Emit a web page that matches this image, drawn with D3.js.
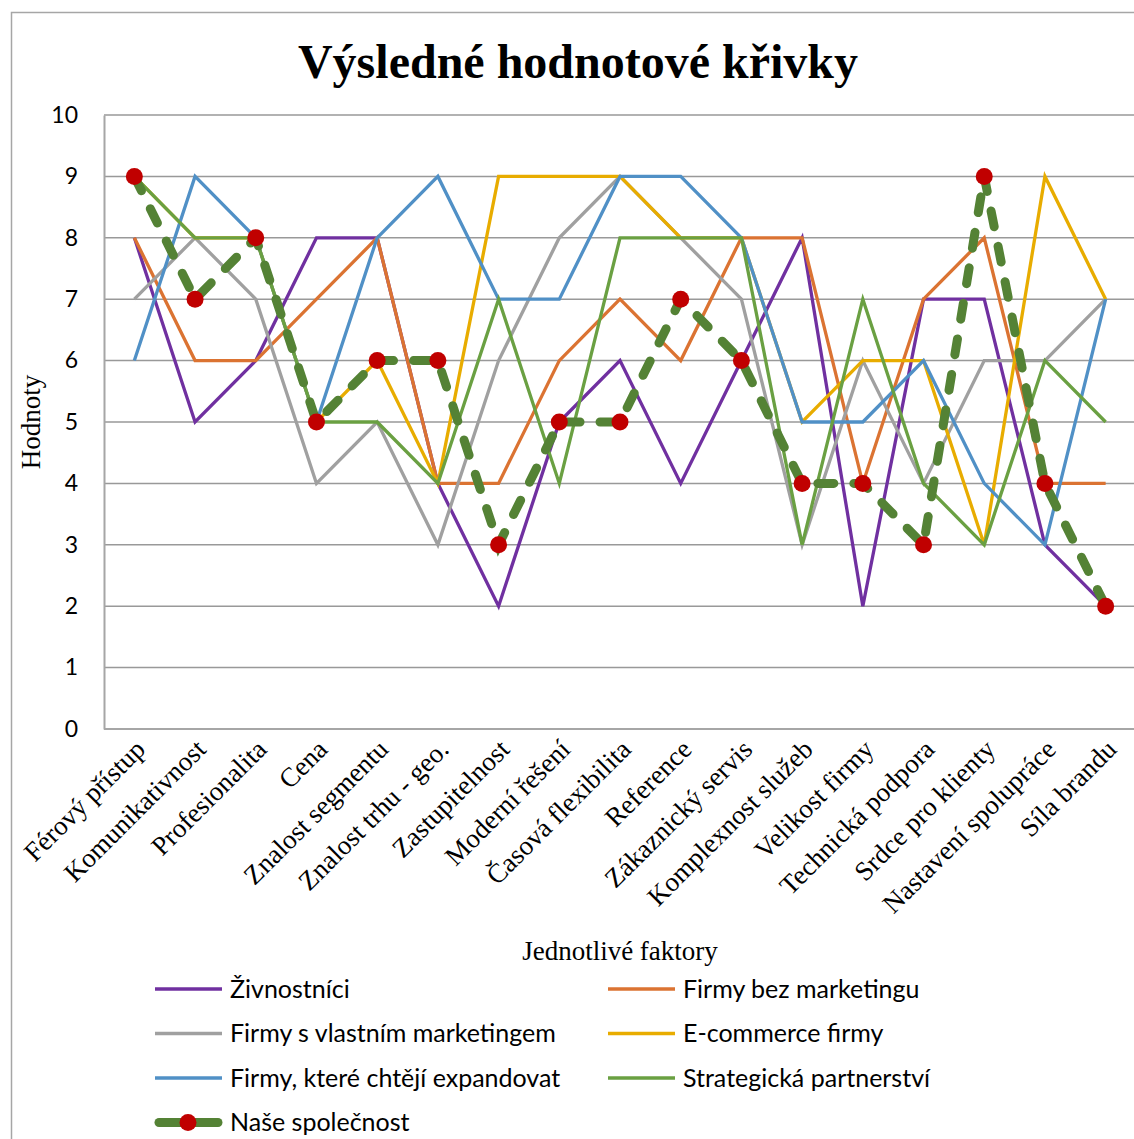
<!DOCTYPE html>
<html>
<head>
    <meta charset="utf-8" />
    <script src="https://d3js.org/d3.v7.min.js"></script>
    <title>Výsledné hodnotové křivky</title>
    <style>
        body { margin: 0; background: #fff; }
        .serif { font-family: "Liberation Serif", "Times New Roman", serif; }
        .sans { font-family: Lato, "Open Sans", sans-serif; }
    </style>
</head>
<body>
    <svg id="chart"></svg>
    <script type="text/javascript">
        // categories + values
        var categories = ["Férový přístup", "Komunikativnost", "Profesionalita", "Cena", "Znalost segmentu",
            "Znalost trhu - geo.", "Zastupitelnost", "Moderní řešení", "Časová flexibilita", "Reference",
            "Zákaznický servis", "Komplexnost služeb", "Velikost firmy", "Technická podpora",
            "Srdce pro klienty", "Nastavení spolupráce", "Síla brandu"];
        var zivnostnici = [8, 5, 6, 8, 8, 4, 2, 5, 6, 4, 6, 8, 2, 7, 7, 3, 2];
        var bezMarketingu = [8, 6, 6, 7, 8, 4, 4, 6, 7, 6, 8, 8, 4, 7, 8, 4, 4];
        var vlastniMarketing = [7, 8, 7, 4, 5, 3, 6, 8, 9, 8, 7, 3, 6, 4, 6, 6, 7];
        var ecommerce = [9, 8, 8, 5, 6, 4, 9, 9, 9, 8, 8, 5, 6, 6, 3, 9, 7];
        var expandovat = [6, 9, 8, 5, 8, 9, 7, 7, 9, 9, 8, 5, 5, 6, 4, 3, 7];
        var partnerstvi = [9, 8, 8, 5, 5, 4, 7, 4, 8, 8, 8, 3, 7, 4, 3, 6, 5];
        var naseSpolecnost = [9, 7, 8, 5, 6, 6, 3, 5, 5, 7, 6, 4, 4, 3, 9, 4, 2];
        var yTicks = [0, 1, 2, 3, 4, 5, 6, 7, 8, 9, 10];

        var series = [
            { name: "Živnostníci", values: zivnostnici, color: "#7030A0" },
            { name: "Firmy bez marketingu", values: bezMarketingu, color: "#DB7332" },
            { name: "Firmy s vlastním marketingem", values: vlastniMarketing, color: "#A0A0A0" },
            { name: "E-commerce firmy", values: ecommerce, color: "#E8AC00" },
            { name: "Firmy, které chtějí expandovat", values: expandovat, color: "#5090C6" },
            { name: "Strategická partnerství", values: partnerstvi, color: "#6AA042" }
        ];
        var ours = { name: "Naše společnost", values: naseSpolecnost, color: "#548235", marker: "#C00000" };

        var W = 1134, H = 1139;
        var plotLeft = 104, plotRight = 1136, plotTop = 115, plotBottom = 729;

        var svg = d3.select("#chart").attr("width", W).attr("height", H);

        // outer chart border (right/bottom edges fall outside the picture)
        svg.append("rect")
            .attr("x", 11.5).attr("y", 12.5)
            .attr("width", 1200).attr("height", 1200)
            .attr("fill", "none").attr("stroke", "#a6a6a6").attr("stroke-width", 1.5);

        var x = d3.scalePoint().domain(categories).range([plotLeft, plotRight]).padding(0.5);
        var y = d3.scaleLinear().domain([0, 10]).range([plotBottom, plotTop]);

        // gridlines
        svg.append("g").selectAll("line").data(yTicks).enter().append("line")
            .attr("x1", plotLeft).attr("x2", plotRight)
            .attr("y1", function (d) { return y(d); })
            .attr("y2", function (d) { return y(d); })
            .attr("stroke", function (d) { return d === 0 ? "#a6a6a6" : "#999"; })
            .attr("stroke-width", function (d) { return d === 0 ? 2 : 1.5; });

        // y axis
        var yAxis = svg.append("g").attr("transform", "translate(" + plotLeft + ",0)")
            .call(d3.axisLeft(y).tickValues(yTicks).tickSize(0).tickPadding(26));
        yAxis.select(".domain").attr("stroke", "#a6a6a6").attr("stroke-width", 2);
        yAxis.selectAll("text").attr("class", "sans").style("font-size", "23px").attr("fill", "#000");

        // x axis labels, rotated
        var xAxis = svg.append("g").attr("transform", "translate(0," + plotBottom + ")")
            .call(d3.axisBottom(x).tickSize(0));
        xAxis.select(".domain").remove();
        xAxis.selectAll("text")
            .attr("class", "serif")
            .style("font-size", "27px")
            .attr("fill", "#000")
            .attr("text-anchor", "end")
            .attr("dy", null)
            .attr("y", 0)
            .attr("transform", "translate(12,22) rotate(-45)");

        // lines
        var line = d3.line()
            .x(function (d, i) { return x(categories[i]); })
            .y(function (d) { return y(d); });

        svg.append("g").selectAll("path").data(series).enter().append("path")
            .attr("d", function (s) { return line(s.values); })
            .attr("fill", "none")
            .attr("stroke", function (s) { return s.color; })
            .attr("stroke-width", 3.3)
            .attr("stroke-linejoin", "miter");

        svg.append("path")
            .attr("d", line(ours.values))
            .attr("fill", "none")
            .attr("stroke", ours.color)
            .attr("stroke-width", 9)
            .attr("stroke-linecap", "round")
            .attr("stroke-dasharray", "16,20");

        svg.append("g").selectAll("circle").data(ours.values).enter().append("circle")
            .attr("cx", function (d, i) { return x(categories[i]); })
            .attr("cy", function (d) { return y(d); })
            .attr("r", 8.5)
            .attr("fill", ours.marker);

        // titles
        svg.append("text").attr("class", "serif")
            .attr("x", 578).attr("y", 78)
            .attr("text-anchor", "middle")
            .style("font-size", "48px").style("font-weight", "bold")
            .text("Výsledné hodnotové křivky");

        svg.append("text").attr("class", "serif")
            .attr("transform", "translate(40,422) rotate(-90)")
            .attr("text-anchor", "middle")
            .style("font-size", "27px")
            .text("Hodnoty");

        svg.append("text").attr("class", "serif")
            .attr("x", 620).attr("y", 960)
            .attr("text-anchor", "middle")
            .style("font-size", "27px")
            .text("Jednotlivé faktory");

        // legend
        var legendItems = series.concat([ours]);
        var legend = svg.append("g");
        var li = legend.selectAll("g").data(legendItems).enter().append("g")
            .attr("transform", function (d, i) {
                var col = i % 2, row = Math.floor(i / 2);
                return "translate(" + (col === 0 ? 155 : 608) + "," + (989 + row * 44.5) + ")";
            });
        li.append("line")
            .attr("x1", function (d) { return d === ours ? 4 : 0; })
            .attr("x2", function (d) { return d === ours ? 63 : 67; })
            .attr("stroke", function (d) { return d.color; })
            .attr("stroke-width", function (d) { return d === ours ? 9 : 3.3; })
            .attr("stroke-linecap", function (d) { return d === ours ? "round" : "butt"; });
        li.filter(function (d) { return d === ours; }).append("circle")
            .attr("cx", 33).attr("r", 8.5).attr("fill", ours.marker);
        li.append("text").attr("class", "sans")
            .attr("x", 75).attr("dy", "0.35em")
            .style("font-size", "25px")
            .text(function (d) { return d.name; });
    </script>
</body>
</html>
